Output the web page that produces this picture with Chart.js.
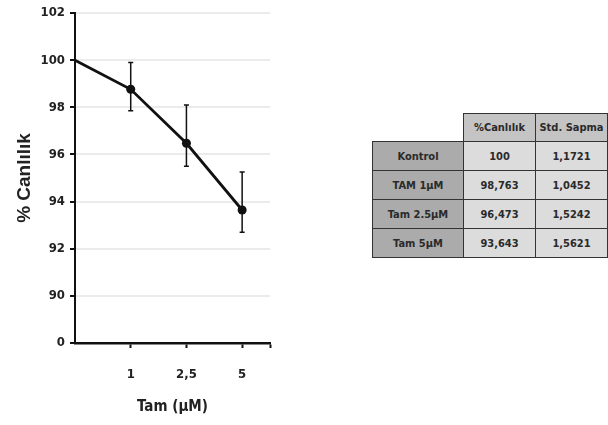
<!DOCTYPE html>
<html>
<head>
<meta charset="utf-8">
<script src="https://cdn.jsdelivr.net/npm/chart.js@4.4.1/dist/chart.umd.min.js"></script>
<style>
    html, body { margin: 0; padding: 0; background: #fff; }
    .chart-box { position: absolute; left: 0; top: 0; width: 290px; height: 425px; }
    .tbl { position: absolute; left: 372px; top: 113px; border-collapse: collapse;
        font-family: 'Liberation Sans Narrow', 'DejaVu Sans Condensed', sans-serif; font-size: 11px;
        font-weight: bold; color: #2a2a2a; }
    .tbl td { border: 1.5px solid #333; text-align: center; padding: 0; }
    .tbl tr.head td { height: 27px; background: #c4c4c4; }
    .tbl tr.row td { height: 28px; background: #dcdcdc; }
    .tbl tr.row td.name { background: #ababab; width: 90px; }
    .tbl tr.head td.blank { border: none; background: #fff; border-bottom: 1.5px solid #333; }
    .tbl td.num { width: 71px; }
</style>
</head>
<body>
<div class="chart-box"><canvas id="viabilityChart"></canvas></div>
<table class="tbl" id="viabilityTable"></table>
<script>
// categories / values
const doseLabels = ['', '1', '2,5', '5'];
const viability = [100, 98.763, 96.473, 93.643];
// error bar ends as drawn in the picture
const errUpper = [null, 99.9, 98.1, 95.25];
const errLower = [null, 97.85, 95.5, 92.7];
const yTickValues = [88, 90, 92, 94, 96, 98, 100, 102];
const yTickLabels = ['0', '90', '92', '94', '96', '98', '100', '102'];

// table data
const tableRows = ['Kontrol', 'TAM 1µM', 'Tam 2.5µM', 'Tam 5µM'];
const tableViability = ['100', '98,763', '96,473', '93,643'];
const tableStd = ['1,1721', '1,0452', '1,5242', '1,5621'];

const tickFont = { family: "'Liberation Sans Narrow', 'DejaVu Sans Condensed', sans-serif", size: 13, weight: 'bold' };

// build table
const tbl = document.getElementById('viabilityTable');
let html = '<tr class="head"><td class="blank"></td><td class="num">%Canlılık</td><td class="num">Std. Sapma</td></tr>';
tableRows.forEach((name, i) => {
    html += `<tr class="row"><td class="name">${name}</td><td>${tableViability[i]}</td><td>${tableStd[i]}</td></tr>`;
});
tbl.innerHTML = html;

// === Error bars ===
const errorBars = {
    id: 'errorBars',
    afterDatasetsDraw(chart) {
        const ctx = chart.ctx;
        const xs = chart.scales.x, ys = chart.scales.y;
        ctx.save();
        ctx.strokeStyle = '#111';
        ctx.lineWidth = 1.5;
        viability.forEach((v, i) => {
            if (errUpper[i] == null) return;
            const px = xs.getPixelForValue(i);
            const top = ys.getPixelForValue(errUpper[i]);
            const bot = ys.getPixelForValue(errLower[i]);
            ctx.beginPath();
            ctx.moveTo(px, top); ctx.lineTo(px, bot);
            ctx.moveTo(px - 2.5, top); ctx.lineTo(px + 2.5, top);
            ctx.moveTo(px - 2.5, bot); ctx.lineTo(px + 2.5, bot);
            ctx.stroke();
        });
        ctx.restore();
    }
};

new Chart(document.getElementById('viabilityChart'), {
    type: 'line',
    data: {
        datasets: [{
            data: viability.map((v, i) => ({ x: i, y: v })),
            borderColor: '#111',
            borderWidth: 2.8,
            backgroundColor: '#111',
            pointRadius: [0, 4.5, 4.5, 4.5],
            pointBorderWidth: 0,
            tension: 0,
            clip: false
        }]
    },
    options: {
        responsive: true,
        maintainAspectRatio: false,
        animation: false,
        layout: { padding: { top: 13, right: 20, bottom: 0, left: 0 } },
        plugins: { legend: { display: false }, tooltip: { enabled: false } },
        scales: {
            x: {
                type: 'linear',
                min: 0,
                max: 3.5,
                afterBuildTicks: (axis) => {
                    axis.ticks = [1, 2, 3, 3.5].map(v => ({ value: v }));
                },
                afterFit: (axis) => { axis.height = 82; },
                ticks: {
                    autoSkip: false,
                    maxRotation: 0,
                    padding: 19,
                    color: '#222',
                    font: tickFont,
                    callback: (value) => doseLabels[value] || ''
                },
                grid: { drawOnChartArea: false, drawTicks: true, tickLength: 5, color: '#111', tickWidth: 2 },
                border: { color: '#111', width: 2.5 },
                title: {
                    display: true,
                    text: 'Tam (µM)',
                    color: '#222',
                    font: { family: tickFont.family, size: 15, weight: 'bold' },
                    padding: { top: 0, bottom: 9 }
                }
            },
            y: {
                min: 88,
                max: 102,
                afterBuildTicks: (axis) => {
                    axis.ticks = yTickValues.map(v => ({ value: v }));
                },
                afterFit: (axis) => { axis.width = 75; },
                ticks: {
                    padding: 5,
                    color: '#222',
                    font: tickFont,
                    callback: (value) => yTickLabels[yTickValues.indexOf(value)]
                },
                grid: {
                    color: (c) => c.tick && c.tick.value === 88 ? 'rgba(0,0,0,0)' : '#ebebeb',
                    lineWidth: 2,
                    tickLength: 5,
                    tickColor: '#111',
                    tickWidth: 2
                },
                border: { color: '#111', width: 2 },
                title: {
                    display: true,
                    text: '% Canlılık',
                    color: '#222',
                    font: { family: 'Arial, "Liberation Sans", sans-serif', size: 19, weight: 'bold' },
                    padding: { top: 13, bottom: 0 }
                }
            }
        }
    },
    plugins: [errorBars]
});
</script>
</body>
</html>
